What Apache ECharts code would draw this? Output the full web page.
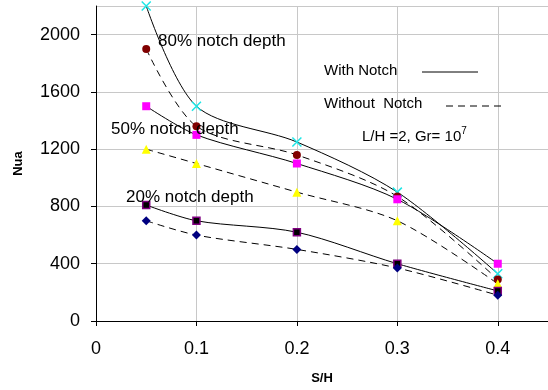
<!DOCTYPE html>
<html>
<head>
<meta charset="utf-8">
<script src="https://cdn.jsdelivr.net/npm/echarts@6/dist/echarts.min.js"></script>
<style>
  html, body { margin: 0; padding: 0; background: #fff; }
  #chart { width: 548px; height: 390px; }
</style>
</head>
<body>
<div id="chart"></div>
<script>
// S/H positions shared by every curve
var xValues = [0.05, 0.1, 0.2, 0.3, 0.4];

// 80% notch depth
var with80 = [2200, 1500, 1250, 900, 330];
var without80 = [1900, 1360, 1160, 870, 290];
// 50% notch depth
var with50 = [1500, 1300, 1100, 850, 400];
var without50 = [1200, 1100, 900, 700, 260];
// 20% notch depth
var with20 = [810, 700, 620, 400, 210];
var without20 = [700, 600, 500, 370, 180];

var yTicks = [0, 400, 800, 1200, 1600, 2000];
var xTicks = [0, 0.1, 0.2, 0.3, 0.4];

var font = 'Liberation Sans, Arial, sans-serif';

function pairs(ys) {
    return xValues.map(function (x, i) { return [x, ys[i]]; });
}

function curve(name, ys, dashed, symbol, size, style) {
    return {
        name: name,
        type: 'line',
        data: pairs(ys),
        smooth: 0.3,
        symbol: symbol,
        symbolSize: size,
        showAllSymbol: true,
        lineStyle: { color: '#000', width: 1, type: dashed ? [7, 5] : 'solid' },
        itemStyle: style,
        z: 3
    };
}

var xMark = 'path://M0,0L10,10M10,0L0,10';

var chart = echarts.init(document.getElementById('chart'));
var option = {
    animation: false,
    textStyle: { fontFamily: font },
    grid: { left: 96, top: 6, right: -4, bottom: 68 },
    xAxis: {
        type: 'value',
        min: 0,
        max: 0.45,
        interval: 0.1,
        name: 'S/H',
        nameLocation: 'middle',
        nameGap: 51,
        nameTextStyle: { fontSize: 13, fontWeight: 'bold', color: '#000', fontFamily: font },
        axisLine: { onZero: false, lineStyle: { color: '#000', width: 1 } },
        axisTick: { show: true, length: 5, lineStyle: { color: '#000' } },
        axisLabel: {
            fontSize: 18, color: '#000', margin: 19, showMaxLabel: false,
            formatter: function (v) { return xTicks.indexOf(Math.round(v * 10) / 10) >= 0 ? String(Math.round(v * 10) / 10) : ''; }
        },
        splitLine: { show: true, lineStyle: { color: '#c8c8c8', width: 1 } }
    },
    yAxis: {
        type: 'value',
        min: 0,
        max: 2200,
        interval: 400,
        name: 'Nua',
        nameLocation: 'middle',
        nameGap: 71,
        nameRotate: 90,
        nameTextStyle: { fontSize: 13, fontWeight: 'bold', color: '#000', fontFamily: font },
        axisLine: { show: true, lineStyle: { color: '#000', width: 1 } },
        axisTick: { show: true, length: 5, lineStyle: { color: '#000' } },
        axisLabel: {
            fontSize: 18, color: '#000', margin: 16, showMaxLabel: false,
            formatter: function (v) { return yTicks.indexOf(v) >= 0 ? String(v) : ''; }
        },
        splitLine: { show: true, lineStyle: { color: '#c8c8c8', width: 1 } }
    },
    series: [
        curve('80% with notch', with80, false, xMark, 9,
            { color: 'rgba(0,0,0,0)', borderColor: '#1ee6e6', borderWidth: 1.5 }),
        curve('80% without notch', without80, true, 'circle', 8, { color: '#800000' }),
        curve('50% with notch', with50, false, 'rect', 8, { color: '#ff00ff' }),
        curve('50% without notch', without50, true, 'triangle', 9, { color: '#ffff00' }),
        curve('20% with notch', with20, false, 'rect', 7,
            { color: '#000', borderColor: '#800080', borderWidth: 1.5 }),
        curve('20% without notch', without20, true, 'diamond', 9, { color: '#000080' })
    ],
    graphic: [
        { type: 'text', left: 158, top: 33, z: 10,
          style: { text: '80% notch depth', font: '17px ' + font, fill: '#000' } },
        { type: 'text', left: 111, top: 121, z: 10,
          style: { text: '50% notch depth', font: '17px ' + font, fill: '#000' } },
        { type: 'text', left: 126, top: 189, z: 10,
          style: { text: '20% notch depth', font: '17px ' + font, fill: '#000' } },
        { type: 'text', left: 324, top: 63, z: 10,
          style: { text: 'With Notch', font: '15px ' + font, fill: '#000' } },
        { type: 'line', z: 10, shape: { x1: 422, y1: 72, x2: 478, y2: 72 },
          style: { stroke: '#000', lineWidth: 1 } },
        { type: 'text', left: 324, top: 96, z: 10,
          style: { text: 'Without  Notch', font: '15px ' + font, fill: '#000' } },
        { type: 'line', z: 10, shape: { x1: 446, y1: 106, x2: 502, y2: 106 },
          style: { stroke: '#000', lineWidth: 1, lineDash: [7, 5] } },
        { type: 'text', left: 362, top: 126, z: 10,
          style: {
              text: '{n|L/H =2, Gr= 10}{s|7}',
              rich: {
                  n: { font: '15px ' + font, fill: '#000', verticalAlign: 'bottom' },
                  s: { font: '10px ' + font, fill: '#000', verticalAlign: 'top', padding: [0, 0, 8, 0] }
              }
          } }
    ]
};
option && chart.setOption(option);
</script>
</body>
</html>
